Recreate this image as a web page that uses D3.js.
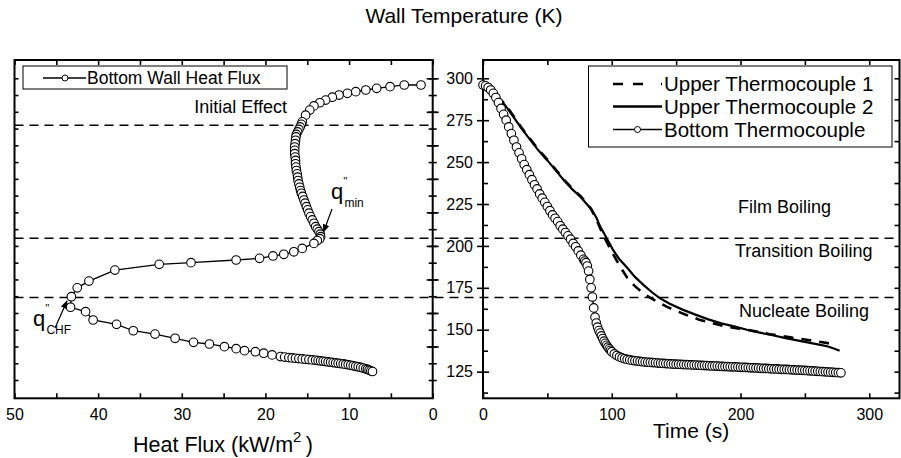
<!DOCTYPE html>
<html>
<head>
<meta charset="UTF-8">
<script src="https://d3js.org/d3.v7.min.js"></script>
<style>
  body { margin: 0; background: #fff; }
  svg text { font-family: "Liberation Sans", Arial, sans-serif; fill: #000; }
  .frame { fill: none; stroke: #000; stroke-width: 2; }
  .axis path { display: none; }
  .axis line { stroke: #000; stroke-width: 1.6; }
  .axis text { font-size: 16px; }
</style>
</head>
<body>
<svg width="901" height="458"></svg>
<script>
// ---- tick labels
const fluxTicks = [50, 40, 30, 20, 10, 0];
const timeTicks = [0, 100, 200, 300];
const tempTicks = [125, 150, 175, 200, 225, 250, 275, 300];

// ---- boiling regime limits (K)
const regimeTemps = [204.6, 169.3];
const initialEffectTemp = 272;

// ---- left panel: bottom wall heat flux (kW/m2) vs wall temperature (K)
const heatFlux = [1.4, 3.4, 5.1, 6.7, 8.0, 9.2, 10.2, 11.2, 12.0, 12.8, 13.5, 14.2, 14.7, 15.2,
  15.6, 15.7, 15.85, 16.0, 16.15, 16.3, 16.35, 16.4, 16.45, 16.5, 16.5, 16.5, 16.45, 16.4, 16.4,
  16.35, 16.3, 16.2, 16.15, 16.1, 16.0, 15.9, 15.8, 15.7, 15.55, 15.4, 15.25, 15.1, 14.95, 14.8,
  14.6, 14.4, 14.2, 14.0, 13.8, 13.6, 13.45, 13.4, 13.5, 13.8, 14.2, 15.6, 16.6, 17.8, 19.1, 20.7,
  23.5, 28.9, 32.7, 38.0, 41.1, 42.5, 43.2, 43.3, 41.5, 40.6, 37.8, 35.8, 33.2, 30.8, 28.6, 26.7,
  24.9, 23.5, 22.5, 21.2, 20.2, 19.2, 18.2, 17.7, 17.2, 16.8, 16.4, 16.0, 15.6, 15.2, 14.8, 14.4,
  14.0, 13.7, 13.4, 13.1, 12.8, 12.5, 12.2, 11.9, 11.6, 11.3, 11.0, 10.7, 10.4, 10.1, 9.8, 9.5,
  9.2, 8.9, 8.6, 8.3, 8.0, 7.8, 7.6, 7.4, 7.2];
const fluxTemp = [296, 296, 295, 294, 293, 292, 291, 290, 288.7, 287, 285.4, 283.5, 281, 278,
  274, 272.5, 271, 269.5, 268, 266.5, 265, 263, 261, 259, 257, 255, 253, 251, 249,
  247, 245, 243, 241, 239, 237, 235, 233, 231.4, 229.5, 227.4, 225.5, 223.4, 221.5, 219.5,
  217.5, 215.5, 213.5, 211.5, 210, 208.5, 207, 205.5, 204.3, 203.2, 201.5, 198.5, 196.5, 195, 194, 192.6,
  191.6, 190, 189, 185.6, 179, 175, 169.7, 163.4, 160.8, 155.8, 153.2, 149.4, 147.4, 144.9, 142.5, 141.5,
  139.9, 138.7, 137.5, 136.9, 136, 135, 134, 133.7, 133.4, 133.2, 133.0, 132.8, 132.6, 132.4, 132.2, 132.0,
  131.8, 131.6, 131.4, 131.2, 131.0, 130.8, 130.6, 130.4, 130.2, 130.0, 129.8, 129.6, 129.3, 129.1, 128.8, 128.5,
  128.2, 127.9, 127.5, 127.1, 126.7, 126.3, 125.9, 125.5, 125.1];

// ---- right panel: bottom thermocouple
const bottomTime = [0, 2, 4, 6, 8, 10, 12, 14, 16, 18, 20, 22, 24, 26, 28, 30, 32, 34, 36, 38, 40,
  42, 44, 46, 48, 50, 52, 54, 56, 58, 60, 62, 64, 66, 68, 70, 72, 74, 76, 78, 79, 80, 81, 82, 83,
  84, 85, 86, 87, 88, 89, 90, 91, 92, 93, 94, 95, 96, 97, 98, 99, 100, 102, 104, 106, 108, 110,
  112, 114, 116, 118, 120, 122, 124, 126, 128, 130, 132, 134, 136, 138, 140, 142, 144, 146, 148,
  150, 152, 154, 156, 158, 160, 162, 164, 166, 168, 170, 172, 174, 176, 178, 180, 182, 184, 186,
  188, 190, 192, 194, 196, 198, 200, 202, 204, 206, 208, 210, 212, 214, 216, 218, 220, 222, 224,
  226, 228, 230, 232, 234, 236, 238, 240, 242, 244, 246, 248, 250, 252, 254, 256, 258, 260, 262,
  264, 266, 268, 270, 272, 274, 276, 278];
const bottomTemp = [296, 295.5, 294.5, 293, 291, 288.5, 285.5, 282, 278.5, 275, 271, 267, 263, 259,
  255.5, 252, 248.5, 245.5, 242.5, 239.5, 236.5, 234, 231, 228.5, 226, 223.5, 221, 218.5, 216.5,
  214.5, 212, 210, 208, 206, 204, 201.5, 199.5, 197, 194.5, 192, 191, 190, 188, 185, 180, 175,
  169.5, 163, 157.5, 154, 151.5, 149.5, 148, 146.3, 144.7, 143.2, 141.9, 140.7, 139.6, 138.6,
  137.7, 136.9, 135.6, 134.6, 133.8, 133.2, 132.7, 132.3, 132.0, 131.7, 131.5, 131.3, 131.1, 130.9,
  130.7, 130.6, 130.5, 130.4, 130.3, 130.1, 130.0, 129.9, 129.8, 129.7, 129.6, 129.5, 129.45,
  129.4, 129.3, 129.2, 129.15, 129.1, 129.0, 128.95, 128.9, 128.8, 128.7, 128.65, 128.6, 128.5,
  128.4, 128.35, 128.3, 128.2, 128.1, 128.05, 128.0, 127.9, 127.85, 127.8, 127.7, 127.6, 127.55,
  127.5, 127.4, 127.3, 127.25, 127.2, 127.1, 127.0, 126.95, 126.9, 126.8, 126.7, 126.65, 126.6,
  126.5, 126.4, 126.35, 126.3, 126.2, 126.1, 126.0, 125.95, 125.9, 125.8, 125.7, 125.6, 125.5,
  125.4, 125.3, 125.2, 125.1, 125.0, 124.9, 124.8, 124.7, 124.6, 124.5, 124.4, 124.3];

// ---- right panel: upper thermocouples
const upper1Time = [0, 3, 6, 9, 12, 16, 20, 25, 30, 37, 43, 50, 56, 63, 69, 76, 80, 84, 86, 88, 91,
  94, 97, 100, 103, 107, 112, 118, 124, 130, 137, 143, 150, 158, 168, 178, 189, 198, 207, 215,
  222, 230, 240, 250, 260, 268, 274];
const upper1Temp = [296, 295.5, 293.5, 290.5, 288.5, 285.5, 281.5, 276, 270.5, 263.5, 257.5, 251.5,
  246, 239.5, 234.5, 229.5, 226, 222, 219, 216, 210.5, 205.5, 201, 196.5, 192.5, 187, 181, 176,
  172, 169, 166, 163.6, 161.3, 158.8, 156, 154, 151.8, 150.8, 149.7, 148.5, 147.5, 146.6, 145.3,
  144.2, 143, 142, 141.5];
const upper2Time = [0, 3, 6, 9, 12, 16, 20, 25, 30, 37, 43, 50, 56, 63, 69, 76, 80, 84, 86, 88, 91,
  94, 96, 99, 101, 106, 112, 118, 125, 131, 137, 145, 155, 165, 175, 185, 195, 205, 215, 225, 235,
  245, 255, 262, 268, 273, 277];
const upper2Temp = [296, 295, 293, 290, 288, 285, 281, 275.5, 270, 263, 257, 251, 245.5, 239, 234,
  229, 225.5, 222, 219.5, 217, 211.5, 207.5, 204.6, 200.5, 197.6, 192, 187, 181.5, 176.5, 172.5,
  169, 165.5, 162, 159, 156.2, 153.8, 152, 150, 148.3, 146.7, 145, 143.5, 142, 141, 140, 138.7, 137.5];

const svg = d3.select("svg");

const yTemp = d3.scaleLinear().domain([109.1, 310.9]).range([398.3, 60]);
const xFlux = d3.scaleLinear().domain([50, 0]).range([14.5, 432.7]);
const xTime = d3.scaleLinear().domain([0, 323.5]).range([483, 899.5]);

const plotTop = yTemp.range()[1], plotBot = yTemp.range()[0];

svg.append("defs").append("marker")
  .attr("id", "arrow").attr("viewBox", "0 0 10 10")
  .attr("refX", 9).attr("refY", 5)
  .attr("markerWidth", 7).attr("markerHeight", 7)
  .attr("orient", "auto")
  .append("path").attr("d", "M0,1 L10,5 L0,9 z").attr("fill", "#000");

// ---- dashed regime lines
const dash = svg.append("g").attr("stroke", "#000").attr("stroke-width", 1.5)
  .attr("stroke-dasharray", "9,6");
regimeTemps.forEach(t => {
  dash.append("line").attr("x1", xFlux.range()[0]).attr("x2", xTime.range()[1])
    .attr("y1", yTemp(t)).attr("y2", yTemp(t));
});
dash.append("line").attr("x1", xFlux.range()[0]).attr("x2", xFlux.range()[1])
  .attr("y1", yTemp(initialEffectTemp)).attr("y2", yTemp(initialEffectTemp));

// ---- axes helper
function ax(gen, x, y, vals, size, labels) {
  const a = gen.tickValues(vals).tickSize(size).tickSizeOuter(0);
  if (!labels) a.tickFormat("");
  return svg.append("g").attr("class", "axis").attr("transform", `translate(${x},${y})`).call(a);
}

// left panel
ax(d3.axisBottom(xFlux), 0, plotBot, d3.range(0, 51, 5), -5, false);
ax(d3.axisBottom(xFlux), 0, plotBot, fluxTicks, 0, true).call(g => g.selectAll("text").attr("dy", "1.15em"));
ax(d3.axisTop(xFlux), 0, plotTop, d3.range(0, 51, 5), -5, false);
ax(d3.axisRight(yTemp), xFlux.range()[0], 0, d3.range(120, 301, 10), 4, false);
ax(d3.axisLeft(yTemp), xFlux.range()[1], 0, d3.range(120, 301, 10), 4, false);
ax(d3.axisRight(yTemp), xFlux.range()[1], 0, d3.range(120, 301, 10), 4, false);
ax(d3.axisLeft(yTemp), xFlux.range()[1], 0, d3.range(140, 301, 20), 6, false);
ax(d3.axisRight(yTemp), xFlux.range()[1], 0, d3.range(140, 301, 20), 6, false);

// right panel
ax(d3.axisBottom(xTime), 0, plotBot, d3.range(0, 301, 50), -5, false);
ax(d3.axisBottom(xTime), 0, plotBot, timeTicks, 0, true).call(g => g.selectAll("text").attr("dy", "1.15em"));
ax(d3.axisTop(xTime), 0, plotTop, d3.range(0, 301, 50), -5, false);
ax(d3.axisLeft(yTemp), xTime.range()[0], 0, tempTicks, 6, true).call(g => g.selectAll("text").attr("x", -10));
ax(d3.axisRight(yTemp), xTime.range()[0], 0, tempTicks, 6, false);
ax(d3.axisRight(yTemp), xTime.range()[0], 0, d3.range(112.5, 301, 25), 5, false);
ax(d3.axisLeft(yTemp), xTime.range()[1], 0, d3.range(112.5, 310, 12.5), 5, false);

// frames
svg.append("rect").attr("class", "frame")
  .attr("x", xFlux.range()[0]).attr("y", plotTop)
  .attr("width", xFlux.range()[1] - xFlux.range()[0]).attr("height", plotBot - plotTop);
svg.append("rect").attr("class", "frame")
  .attr("x", xTime.range()[0]).attr("y", plotTop)
  .attr("width", xTime.range()[1] - xTime.range()[0]).attr("height", plotBot - plotTop);

// ---- series
function circleSeries(xs, ys, sx, r) {
  const pts = xs.map((v, i) => [sx(v), yTemp(ys[i])]);
  svg.append("path").attr("d", d3.line()(pts))
    .attr("fill", "none").attr("stroke", "#000").attr("stroke-width", 1.3);
  svg.append("g").selectAll("circle").data(pts).join("circle")
    .attr("cx", d => d[0]).attr("cy", d => d[1]).attr("r", r)
    .attr("fill", "#fff").attr("stroke", "#000").attr("stroke-width", 1.1);
}
circleSeries(heatFlux, fluxTemp, xFlux, 4.3);

const lineT = d3.line().x(d => xTime(d[0])).y(d => yTemp(d[1]));
svg.append("path").attr("d", lineT(upper2Time.map((t, i) => [t, upper2Temp[i]])))
  .attr("fill", "none").attr("stroke", "#000").attr("stroke-width", 2.2);
svg.append("path").attr("d", lineT(upper1Time.map((t, i) => [t, upper1Temp[i]])))
  .attr("fill", "none").attr("stroke", "#000").attr("stroke-width", 2.6)
  .attr("stroke-dasharray", "10,8");
circleSeries(bottomTime, bottomTemp, xTime, 4.3);

// ---- texts
svg.append("text").attr("x", 464).attr("y", 23).attr("text-anchor", "middle")
  .style("font-size", "21px").text("Wall Temperature (K)");

const hf = svg.append("text").attr("x", 133).attr("y", 452).style("font-size", "21.5px");
hf.append("tspan").text("Heat Flux (kW/m");
hf.append("tspan").attr("dy", -10).style("font-size", "15px").text("2");
hf.append("tspan").attr("dy", 10).text("\u2009)");

svg.append("text").attr("x", 653).attr("y", 438).style("font-size", "21px").text("Time (s)");

const note = (x, y, s, size, anchor) => svg.append("text").attr("x", x).attr("y", y)
  .attr("text-anchor", anchor || "start").style("font-size", size + "px").text(s);
note(287, 113, "Initial Effect", 18, "end");
note(738, 213, "Film Boiling", 18);
note(735, 257, "Transition Boiling", 18);
note(739, 317, "Nucleate Boiling", 18);

// q'' labels: prime raised just after the q, subscript tucked under it
function qLabel(x, y, sub) {
  const t = svg.append("text").attr("x", x).attr("y", y).style("font-size", "22px");
  t.append("tspan").text("q");
  t.append("tspan").attr("dx", 0).attr("dy", -14).style("font-size", "11px").text("''");
  t.append("tspan").attr("dx", -3).attr("dy", 22).style("font-size", "12px").text(sub);
}
qLabel(331, 199, "min");
svg.append("line").attr("x1", 332).attr("y1", 209).attr("x2", 323.5).attr("y2", 232)
  .attr("stroke", "#000").attr("stroke-width", 1.2).attr("marker-end", "url(#arrow)");
qLabel(33, 326, "CHF");
svg.append("line").attr("x1", 55).attr("y1", 328).attr("x2", 67).attr("y2", 301)
  .attr("stroke", "#000").attr("stroke-width", 1.2).attr("marker-end", "url(#arrow)");

// ---- legends
const lg1 = svg.append("g");
lg1.append("rect").attr("x", 23).attr("y", 66).attr("width", 264).attr("height", 23)
  .attr("fill", "#fff").attr("stroke", "#000").attr("stroke-width", 1);
lg1.append("line").attr("x1", 43).attr("x2", 86).attr("y1", 78).attr("y2", 78)
  .attr("stroke", "#000").attr("stroke-width", 1.5);
lg1.append("circle").attr("cx", 65).attr("cy", 78).attr("r", 3)
  .attr("fill", "#fff").attr("stroke", "#000").attr("stroke-width", 1);
lg1.append("text").attr("x", 87).attr("y", 84).style("font-size", "17.5px").text("Bottom Wall Heat Flux");

const lg2 = svg.append("g");
lg2.append("rect").attr("x", 588.5).attr("y", 66).attr("width", 303.5).attr("height", 81)
  .attr("fill", "#fff").attr("stroke", "#000").attr("stroke-width", 1);
const rows = [
  { label: "Upper Thermocouple 1", y: 91, dash: "10,10,10,18", w: 2.6 },
  { label: "Upper Thermocouple 2", y: 113.5, dash: null, w: 2.6 },
  { label: "Bottom Thermocouple", y: 136.5, dash: null, w: 1.5, circle: true }
];
rows.forEach(r => {
  const l = lg2.append("line").attr("x1", 613).attr("x2", 662)
    .attr("y1", r.y - 7).attr("y2", r.y - 7).attr("stroke", "#000").attr("stroke-width", r.w);
  if (r.dash) l.attr("stroke-dasharray", r.dash);
  if (r.circle) lg2.append("circle").attr("cx", 637.5).attr("cy", r.y - 7).attr("r", 3)
    .attr("fill", "#fff").attr("stroke", "#000").attr("stroke-width", 1);
  lg2.append("text").attr("x", 664).attr("y", r.y).style("font-size", "20.5px").text(r.label);
});
</script>
</body>
</html>
